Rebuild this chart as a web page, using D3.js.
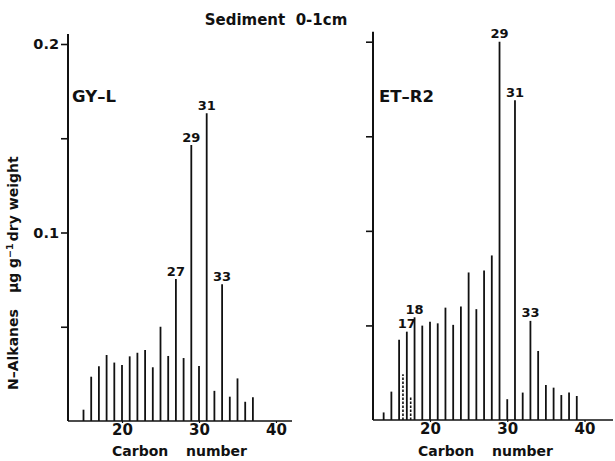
<!DOCTYPE html>
<html><head><meta charset="utf-8">
<script src="https://cdn.jsdelivr.net/npm/d3@7"></script>
<style>
body{margin:0;background:#fff}
svg{display:block}
text{font-family:"DejaVu Sans",sans-serif;font-weight:bold;fill:#111}
</style>
</head><body>
<svg id="chart" width="615" height="461"></svg>
<script>
// ---- data ----
const carbonsL = [15,16,17,18,19,20,21,22,23,24,25,26,27,28,29,30,31,32,33,34,35,36,37];
const valuesL  = [0.006,0.0235,0.029,0.035,0.031,0.0297,0.0343,0.0362,0.0377,0.0285,0.050,0.0345,0.0753,0.0334,0.1464,0.0292,0.1632,0.016,0.0725,0.0129,0.0226,0.0102,0.0126];
const carbonsR = [14,15,16,17,18,19,20,21,22,23,24,25,26,27,28,29,30,31,32,33,34,35,36,37,38,39];
const valuesR  = [0.004,0.015,0.0424,0.0467,0.0543,0.0499,0.052,0.0511,0.0594,0.0503,0.060,0.078,0.0586,0.079,0.087,0.200,0.011,0.169,0.0145,0.0524,0.0365,0.0185,0.0171,0.0132,0.0145,0.0127];
const isoCarbonsR = [16.5,17.5];           // dashed peaks (isoprenoids)
const isoValuesR  = [0.0242,0.012];
const peakCarbonsL = [27,29,31,33];
const peakLabelsL  = ["27","29","31","33"];
const peakCarbonsR = [17,18,29,31,33];
const peakLabelsR  = ["17","18","29","31","33"];
const xTickValues = [20,30,40];
const yTickValues = [0.05,0.1,0.15,0.2];
const yTickLabels = ["", "0.1", "", "0.2"];
const panelNames = ["GY\u2013L","ET\u2013R2"];
const titleText = "Sediment  0-1cm";

const svg = d3.select("#chart");

function drawPanel(cfg){
  const x = d3.scaleLinear().domain([20,40]).range(cfg.xr);
  const y = d3.scaleLinear().domain([0,0.2]).range(cfg.yr);
  const g = svg.append("g");
  const x0 = cfg.axisX, x1 = cfg.axisEnd;
  // y axis ticks
  const yAxis = d3.axisLeft(y).tickValues(yTickValues).tickSize(7).tickPadding(2)
    .tickFormat((d,i)=> cfg.showY ? yTickLabels[i] : "");
  const ya = g.append("g").attr("transform",`translate(${x0},0)`).call(yAxis);
  ya.select(".domain").remove();
  ya.selectAll("line").attr("stroke","#111").attr("stroke-width",1.6);
  ya.selectAll("text").style("font-size","14.5px").attr("fill","#111");
  // y axis line
  g.append("line").attr("x1",x0).attr("x2",x0).attr("y1",y(0)).attr("y2",y(0.2)-10)
    .attr("stroke","#111").attr("stroke-width",2);
  // baseline
  g.append("line").attr("x1",x0).attr("x2",x1).attr("y1",y(0)).attr("y2",y(0))
    .attr("stroke","#111").attr("stroke-width",1.6);
  // x axis
  const xAxis = d3.axisBottom(x).tickValues(xTickValues).tickSize(2).tickPadding(1).tickFormat(d3.format("d"));
  const xa = g.append("g").attr("transform",`translate(0,${y(0)})`).call(xAxis);
  xa.select(".domain").remove();
  xa.selectAll("line").attr("stroke","#111").attr("stroke-width",1.2);
  xa.selectAll("text").style("font-size","15px").attr("fill","#111");
  // bars
  g.selectAll(".bar").data(cfg.carbons.map((c,i)=>({c,v:cfg.values[i]}))).enter()
    .append("line").attr("x1",d=>x(d.c)).attr("x2",d=>x(d.c))
    .attr("y1",y(0)).attr("y2",d=>y(d.v))
    .attr("stroke","#111").attr("stroke-width",1.8);
  if(cfg.iso){
    g.selectAll(".iso").data(cfg.iso.c.map((c,i)=>({c,v:cfg.iso.v[i]}))).enter()
      .append("line").attr("x1",d=>x(d.c)).attr("x2",d=>x(d.c))
      .attr("y1",y(0)).attr("y2",d=>y(d.v))
      .attr("stroke","#111").attr("stroke-width",1.6).attr("stroke-dasharray","2.5,1.5");
  }
  // peak labels
  cfg.peakC.forEach((c,i)=>{
    const v = cfg.values[cfg.carbons.indexOf(c)];
    g.append("text").attr("x",x(c)).attr("y",y(v)-3.5).attr("text-anchor","middle")
      .style("font-size","13px").text(cfg.peakL[i]);
  });
  // panel name
  g.append("text").attr("x",cfg.nameX).attr("y",cfg.nameY).style("font-size","16.5px").text(cfg.name);
  // x title
  g.append("text").attr("x",cfg.carbonX).attr("y",456).style("font-size","14px").text("Carbon");
  g.append("text").attr("x",cfg.numberX).attr("y",456).style("font-size","14px").text("number");
}

drawPanel({xr:[122,276], yr:[421,44], axisX:68, axisEnd:292, showY:true,
  carbons:carbonsL, values:valuesL, peakC:peakCarbonsL, peakL:peakLabelsL,
  name:panelNames[0], nameX:72, nameY:102, carbonX:112, numberX:186});
drawPanel({xr:[430,584.5], yr:[420,41.7], axisX:373, axisEnd:613, showY:false,
  carbons:carbonsR, values:valuesR, iso:{c:isoCarbonsR, v:isoValuesR}, peakC:peakCarbonsR, peakL:peakLabelsR,
  name:panelNames[1], nameX:379, nameY:102, carbonX:418, numberX:492});

// title
svg.append("text").attr("x",276).attr("y",25).attr("text-anchor","middle")
  .style("font-size","15px").style("white-space","pre").text(titleText);

// y axis title
const yt = svg.append("text").attr("transform","translate(18,390) rotate(-90)")
  .style("font-size","14px");
yt.append("tspan").text("N\u2013Alkanes");
yt.append("tspan").attr("dx",16).text("\u00b5g g");
yt.append("tspan").attr("dy",-5).style("font-size","9.5px").text("\u22121");
yt.append("tspan").attr("dy",5).attr("dx",2).text("dry");
yt.append("tspan").attr("dx",5).text("weight");
</script>
</body></html>
